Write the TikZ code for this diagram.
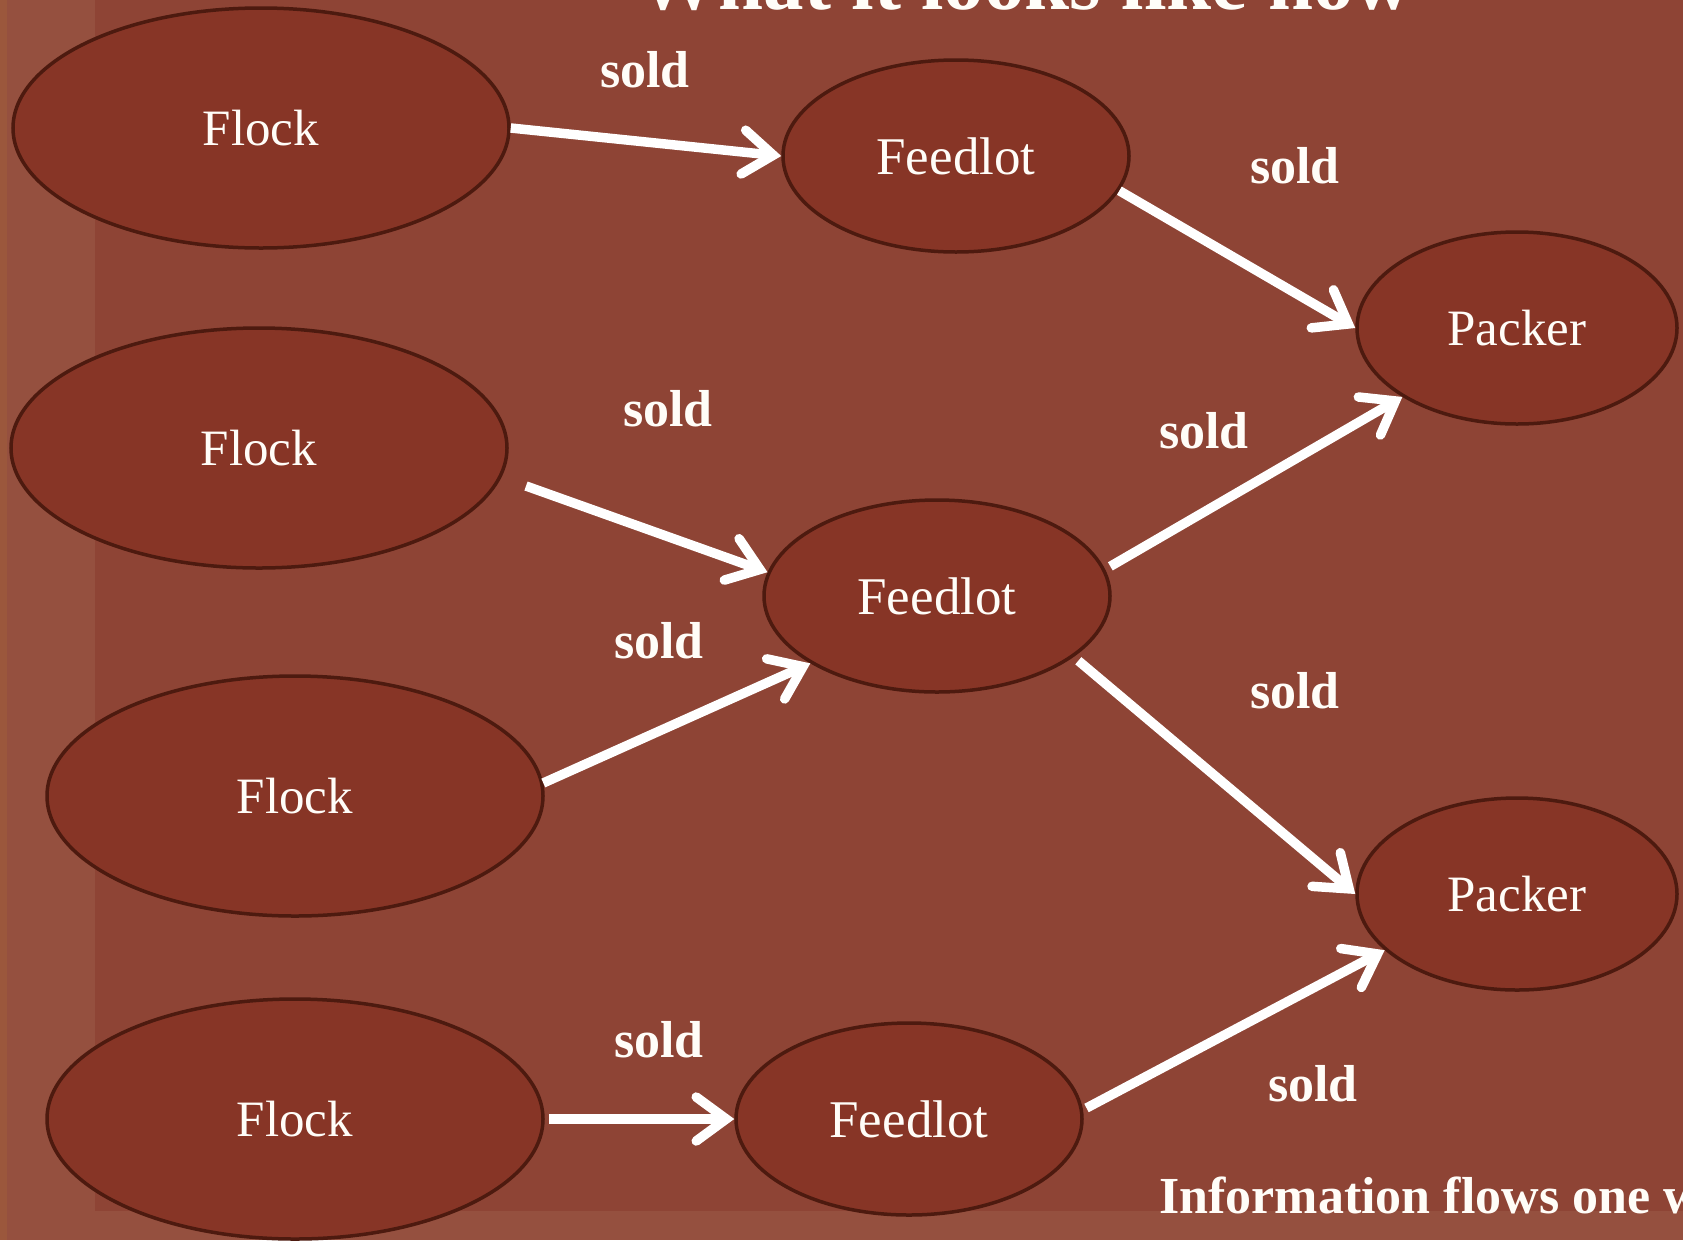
\documentclass[tikz,border=0pt]{standalone}
\usepackage{fontspec}
\setmainfont{Liberation Serif}
\usetikzlibrary{shapes.geometric,arrows.meta}
\definecolor{bgmain}{HTML}{8E4435}
\definecolor{bgside}{HTML}{95503F}
\definecolor{bgedge}{HTML}{9B573C}
\definecolor{nodefill}{HTML}{873526}
\definecolor{nodeline}{HTML}{4D1A0F}
\definecolor{txt}{HTML}{FFFDF8}
\begin{document}
\begin{tikzpicture}[x=1pt,y=-1pt,
  ell/.style={ellipse, draw=nodeline, line width=3.5pt, fill=nodefill, text=txt,
    font=\fontsize{51}{56}\selectfont, inner sep=0pt},
  flockbox/.style={ell, minimum width=496pt, minimum height=240pt},
  feedbox/.style={ell, minimum width=346pt, minimum height=192pt},
  packbox/.style={ell, minimum width=320pt, minimum height=192pt},
  flow/.style={draw=white, line width=9.5pt, -{Straight Barb[length=30pt,width=44pt,line cap=round,line join=miter]}},
  soldlbl/.style={text=txt, font=\bfseries\fontsize{52}{56}\selectfont, inner sep=0pt}
]
\useasboundingbox (0,0) rectangle (1683,1240);
% background
\fill[bgside] (0,0) rectangle (1683,1240);
\fill[bgedge] (0,0) rectangle (7,1240);
\fill[bgmain] (95,0) rectangle (1683,1211);
% title (cut off at top)
\node[text=txt, font=\bfseries\fontsize{81}{86}\selectfont, anchor=base, inner sep=0pt] (title) at (1025,9) {What it looks like now};
% nodes
\node[flockbox] (flock1) at (261,128) {Flock};
\node[flockbox] (flock2) at (259,448) {Flock};
\node[flockbox] (flock3) at (295,796) {Flock};
\node[flockbox] (flock4) at (295,1119) {Flock};
\node[feedbox, font=\fontsize{53}{56}\selectfont] (feed1) at (956,156) {Feedlot};
\node[feedbox, font=\fontsize{53}{56}\selectfont] (feed2) at (937,596) {Feedlot};
\node[feedbox, font=\fontsize{53}{56}\selectfont] (feed3) at (909,1119) {Feedlot};
\node[packbox] (pack1) at (1517,328) {Packer};
\node[packbox] (pack2) at (1517,894) {Packer};
\coordinate (a3s) at (526,486);
% connectors
\draw[flow] (flock1.east) -- (feed1.west);
\draw[flow] (feed1.-12) -- (pack1.west);
\draw[flow] (a3s) -- (feed2.172);
\draw[flow] (flock3.3) -- (feed2.208);
\draw[flow, shorten <=6pt] (feed2.9) -- (pack1.211);
\draw[flow, shorten <=6pt] (feed2.-24) -- (pack2.west);
\draw[flow, shorten <=4pt] (flock4.east) -- (feed3.west);
\draw[flow, shorten <=4pt] (feed3.3) -- (pack2.203);
% labels
\node[soldlbl] (s1) at (645,70) {sold};
\node[soldlbl] (s2) at (1295,166) {sold};
\node[soldlbl] (s3) at (668,409) {sold};
\node[soldlbl] (s4) at (1204,431) {sold};
\node[soldlbl] (s5) at (659,641) {sold};
\node[soldlbl] (s6) at (1295,691) {sold};
\node[soldlbl] (s7) at (659,1040) {sold};
\node[soldlbl] (s8) at (1313,1084) {sold};
\node[text=txt, font=\bfseries\fontsize{52}{56}\selectfont, anchor=base west, inner sep=0pt] (info) at (1159,1213) {Information flows one w};
\end{tikzpicture}
\end{document}
